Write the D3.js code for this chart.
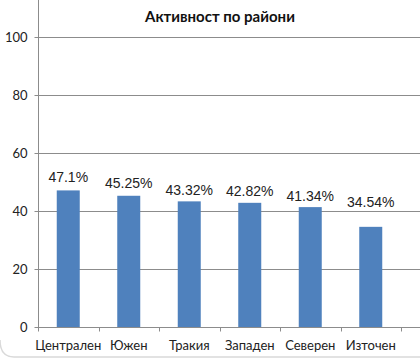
<!DOCTYPE html>
<html><head><meta charset="utf-8">
<script src="https://cdn.jsdelivr.net/npm/d3@7"></script>
<style>body{margin:0;background:#fff}svg{display:block}</style>
</head><body>
<script>
const categories = ["Централен","Южен","Тракия","Западен","Северен","Източен"];
const values = [47.1, 45.25, 43.32, 42.82, 41.34, 34.54];
const valueLabels = ["47.1%","45.25%","43.32%","42.82%","41.34%","34.54%"];
const yTicks = [0,20,40,60,80,100];
const title = "Активност по райони";

const W = 420, H = 359;
const labelLift = [8, 8, 6, 7, 6, 20];
const svg = d3.select("body").append("svg").attr("width", W).attr("height", H);

svg.append("path")
  .attr("d", "M0,340 Q0,357 14,357 L420,357")
  .attr("fill","none").attr("stroke","#d9d9d9").attr("stroke-width",1.5);

const x = d3.scaleBand().domain(categories).range([38, 401]).paddingInner(0.62).paddingOuter(0.31);
const xb = d3.scaleBand().domain(categories).range([38, 401]);
const y = d3.scaleLinear().domain([0,100]).range([327, 37]);

// gridlines
svg.append("g").selectAll("line").data(yTicks.filter(d=>d>0)).join("line")
  .attr("x1",38).attr("x2",420).attr("y1",d=>Math.round(y(d))+0.5).attr("y2",d=>Math.round(y(d))+0.5)
  .attr("stroke","#8c8c8c").attr("stroke-width",1);

// bars
svg.append("g").selectAll("rect").data(values).join("rect")
  .attr("x",(d,i)=>xb(categories[i]) + xb.bandwidth()/2 - 11.5)
  .attr("width",23)
  .attr("y",d=>y(d)).attr("height",d=>y(0)-y(d))
  .attr("fill","#4f81bd");

// y axis
const yAxis = d3.axisLeft(y).tickValues(yTicks).tickSize(4).tickPadding(7);
const gy = svg.append("g").attr("transform","translate(38.5,0)").call(yAxis);
gy.select(".domain").attr("d","M0,0V331").attr("stroke","#8c8c8c");
gy.selectAll(".tick line").attr("stroke","#8c8c8c");
gy.selectAll(".tick text").attr("font-family","Lato, 'Open Sans', sans-serif").attr("font-size",13).attr("fill","#222");

// x axis
const gx = svg.append("g").attr("transform",`translate(0,${Math.round(y(0))+0.5})`);
gx.append("line").attr("x1",38).attr("x2",420).attr("stroke","#8c8c8c");
const bounds = categories.map(c=>xb(c)).concat([xb(categories[categories.length-1])+xb.bandwidth()]);
gx.selectAll("line.t").data(bounds).join("line").attr("class","t")
  .attr("x1",d=>Math.round(d)+0.5).attr("x2",d=>Math.round(d)+0.5).attr("y1",0).attr("y2",4).attr("stroke","#8c8c8c");
gx.selectAll("text").data(categories).join("text")
  .attr("x",d=>xb(d)+xb.bandwidth()/2).attr("y",22)
  .attr("text-anchor","middle")
  .attr("font-family","Lato, 'Open Sans', sans-serif").attr("font-size",13).attr("fill","#222")
  .text(d=>d);

// value labels
svg.append("g").selectAll("text").data(values).join("text")
  .attr("x",(d,i)=>xb(categories[i])+xb.bandwidth()/2)
  .attr("y",(d,i)=>y(d)-labelLift[i])
  .attr("text-anchor","middle")
  .attr("font-family","'Liberation Sans', Arial, sans-serif").attr("font-size",14).attr("fill","#222")
  .text((d,i)=>valueLabels[i]);

// title
svg.append("text").attr("x",220).attr("y",22).attr("text-anchor","middle")
  .attr("font-family","Lato, 'Open Sans', sans-serif").attr("font-weight","bold").attr("font-size",15).attr("fill","#111")
  .text(title);
</script>
</body></html>
